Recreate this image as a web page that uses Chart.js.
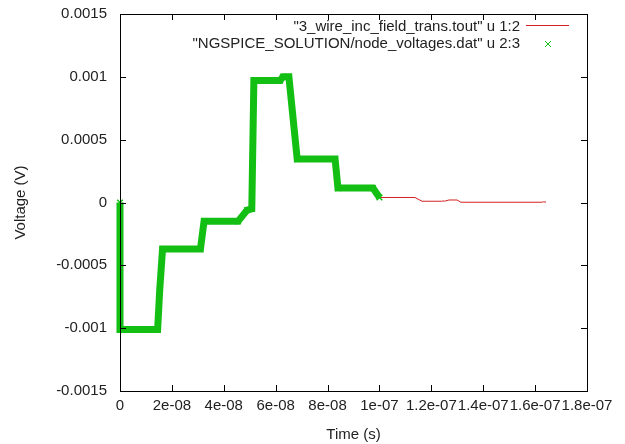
<!DOCTYPE html>
<html>
<head>
<meta charset="utf-8">
<script src="https://cdn.jsdelivr.net/npm/chart.js@4"></script>
<style>
  html, body { margin: 0; padding: 0; background: #fff; }
  #wrap { width: 625px; height: 444px; }
</style>
</head>
<body>
<div id="wrap"><canvas id="chart" width="625" height="444"></canvas></div>
<script>
// tick values and their gnuplot-style labels
const xTicks = [0, 2e-8, 4e-8, 6e-8, 8e-8, 1e-7, 1.2e-7, 1.4e-7, 1.6e-7, 1.8e-7];
const xTickLabels = ['0', '2e-08', '4e-08', '6e-08', '8e-08', '1e-07', '1.2e-07', '1.4e-07', '1.6e-07', '1.8e-07'];
const yTicks = [-0.0015, -0.001, -0.0005, 0, 0.0005, 0.001, 0.0015];
const yTickLabels = ['-0.0015', '-0.001', '-0.0005', '0', '0.0005', '0.001', '0.0015'];

// "3_wire_inc_field_trans.tout" u 1:2  (red line)
const toutTime = [0, 0, 1.45e-8, 1.53e-8, 1.64e-8, 3.1e-8, 3.24e-8, 4.55e-8, 4.9e-8, 5.08e-8, 5.16e-8, 6.17e-8, 6.28e-8, 6.51e-8, 6.83e-8, 8.29e-8, 8.4e-8, 9.75e-8, 1.0e-7,
  1.137e-7, 1.164e-7, 1.24e-7, 1.245e-7, 1.25e-7, 1.268e-7, 1.299e-7, 1.314e-7, 1.626e-7, 1.632e-7, 1.642e-7];
const toutVolt = [0, -0.00101, -0.00101, -0.0007, -0.00037, -0.00037, -0.00015, -0.00015, -0.00006, -0.00005, 0.00097, 0.00097, 0.001, 0.001, 0.000346, 0.000346, 0.000115, 0.000115, 0.00004,
  0.00004, 0.00001, 0.00001, 0.000013, 0.00001, 0.00002, 0.00002, 0.000002, 0.000002, 0.000005, 0.000003];

// "NGSPICE_SOLUTION/node_voltages.dat" u 2:3  (green crosses)
const ngTime = [0, 0, 1.45e-8, 1.53e-8, 1.64e-8, 3.1e-8, 3.24e-8, 4.55e-8, 4.9e-8, 5.08e-8, 5.16e-8, 6.17e-8, 6.28e-8, 6.51e-8, 6.83e-8, 8.29e-8, 8.4e-8, 9.75e-8, 1.0e-7];
const ngVolt = [0, -0.00101, -0.00101, -0.0007, -0.00037, -0.00037, -0.00015, -0.00015, -0.00006, -0.00005, 0.00097, 0.00097, 0.001, 0.001, 0.000346, 0.000346, 0.000115, 0.000115, 0.00004];

const red = '#d42020';
const green = '#14bf14';

Chart.defaults.font.family = '"Liberation Sans", Arial, sans-serif';
Chart.defaults.font.size = 15;
Chart.defaults.color = '#222';

// border box, inward ticks on all four sides, and the key in the top right
const gnuplotFrame = {
  id: 'gnuplotFrame',
  afterDatasetsDraw(chart) {
    const { ctx, chartArea: a, scales } = chart;
    const x = scales.x, y = scales.y;
    ctx.save();
    ctx.strokeStyle = '#000';
    ctx.lineWidth = 1;
    ctx.beginPath();
    xTicks.forEach(v => {
      const px = Math.round(x.getPixelForValue(v)) + 0.5;
      ctx.moveTo(px, a.bottom); ctx.lineTo(px, a.bottom - 6);
      ctx.moveTo(px, a.top); ctx.lineTo(px, a.top + 6);
    });
    yTicks.forEach(v => {
      const py = Math.round(y.getPixelForValue(v)) + 0.5;
      ctx.moveTo(a.left, py); ctx.lineTo(a.left + 6, py);
      ctx.moveTo(a.right, py); ctx.lineTo(a.right - 6, py);
    });
    ctx.stroke();
    ctx.strokeRect(Math.round(a.left) + 0.5, Math.round(a.top) + 0.5, Math.round(a.right - a.left), Math.round(a.bottom - a.top));

    // key
    const ds = chart.data.datasets;
    ctx.font = '15px "Liberation Sans", Arial, sans-serif';
    ctx.fillStyle = '#222';
    ctx.textAlign = 'right';
    ctx.textBaseline = 'middle';
    const textRight = a.right - 67;
    ctx.fillText(ds[0].label, textRight, a.top + 13);
    ctx.fillText(ds[1].label, textRight, a.top + 30);
    ctx.strokeStyle = red;
    ctx.beginPath();
    ctx.moveTo(a.right - 61, a.top + 11.5);
    ctx.lineTo(a.right - 18, a.top + 11.5);
    ctx.stroke();
    ctx.strokeStyle = green;
    ctx.beginPath();
    const mx = a.right - 39, my = a.top + 30;
    ctx.moveTo(mx - 3, my - 3); ctx.lineTo(mx + 3, my + 3);
    ctx.moveTo(mx - 3, my + 3); ctx.lineTo(mx + 3, my - 3);
    ctx.stroke();
    ctx.restore();
  }
};

const ctx = document.getElementById('chart').getContext('2d');
new Chart(ctx, {
  type: 'scatter',
  data: {
    datasets: [{
      label: '"3_wire_inc_field_trans.tout" u 1:2',
      data: toutTime.map((t, i) => ({ x: t, y: toutVolt[i] })),
      showLine: true,
      borderColor: red,
      borderWidth: 1,
      pointRadius: 0,
      order: 1
    }, {
      label: '"NGSPICE_SOLUTION/node_voltages.dat" u 2:3',
      data: ngTime.map((t, i) => ({ x: t, y: ngVolt[i] })),
      showLine: true,
      borderColor: green,
      borderWidth: 7,
      pointStyle: 'crossRot',
      pointRadius: 4,
      pointBorderWidth: 1.5,
      pointBorderColor: green,
      pointBackgroundColor: green,
      clip: 8,
      order: 0
    }]
  },
  options: {
    responsive: false,
    animation: false,
    layout: { padding: { top: 14, right: 38, left: 0, bottom: 0 } },
    plugins: {
      legend: { display: false },
      tooltip: { enabled: false }
    },
    scales: {
      x: {
        type: 'linear',
        min: 0,
        max: 1.8e-7,
        afterBuildTicks: (scale) => { scale.ticks = xTicks.map(v => ({ value: v })); },
        afterFit: (scale) => { scale.height = 53; scale.paddingLeft = 0; scale.paddingRight = 0; },
        grid: { display: false, drawTicks: false },
        border: { display: false },
        ticks: {
          autoSkip: false,
          maxRotation: 0,
          minRotation: 0,
          padding: 6,
          callback: (value, index) => xTickLabels[index]
        },
        title: { display: true, text: 'Time (s)', padding: { top: 3, bottom: 0 } }
      },
      y: {
        type: 'linear',
        min: -0.0015,
        max: 0.0015,
        afterBuildTicks: (scale) => { scale.ticks = yTicks.map(v => ({ value: v })); },
        afterFit: (scale) => { scale.width = 120; scale.paddingTop = 0; scale.paddingBottom = 0; },
        grid: { display: false, drawTicks: false },
        border: { display: false },
        ticks: {
          padding: 13,
          callback: (value, index) => yTickLabels[index]
        },
        title: { display: true, text: 'Voltage (V)', padding: { top: 12, bottom: 0 } }
      }
    }
  },
  plugins: [gnuplotFrame]
});
</script>
</body>
</html>
